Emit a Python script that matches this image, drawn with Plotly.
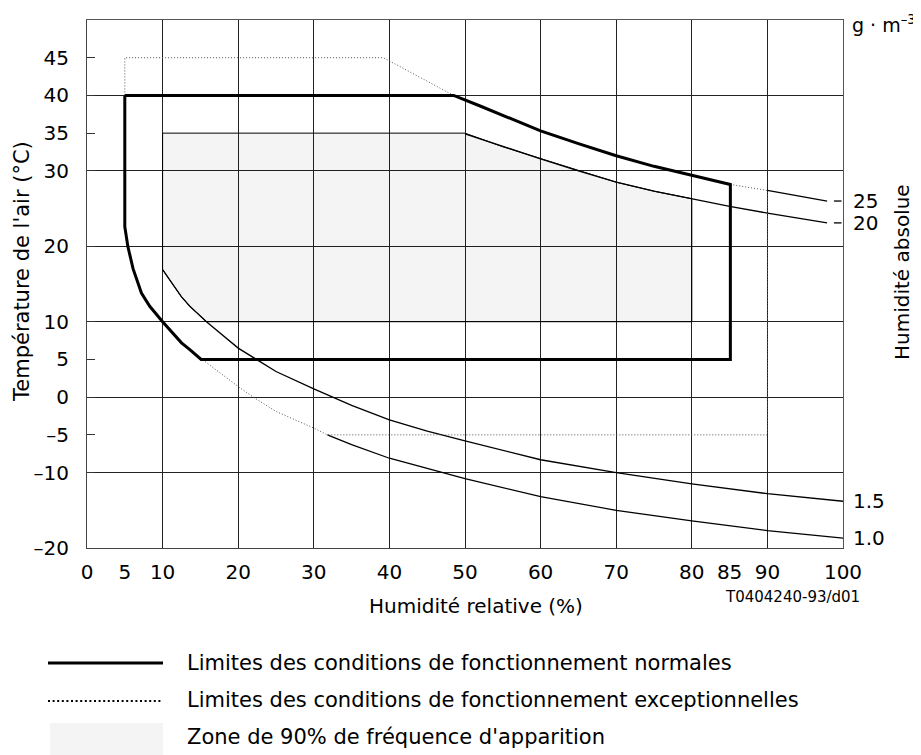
import plotly.graph_objects as go

# ---------------- data ----------------
# axis ticks
x_tick_vals = [0, 5, 10, 20, 30, 40, 50, 60, 70, 80, 85, 90, 100]
x_tick_text = ["0", "5", "10", "20", "30", "40", "50", "60", "70", "80", "85", "90", "100"]
x_grid_vals = [10, 20, 30, 40, 50, 60, 70, 80, 90]
y_tick_vals = [-20, -10, -5, 0, 5, 10, 20, 30, 35, 40, 45]
y_tick_text = ["–20", "–10", "–5", "0", "5", "10", "20", "30", "35", "40", "45"]
y_grid_vals = [-10, 0, 10, 20, 30, 40]

# 90 % frequency zone (grey area)
zone_rh = [10, 50, 55, 60, 65, 70, 75, 80, 80, 15.8, 13.6, 12.5, 10, 10]
zone_t = [35, 35, 33.2, 31.6, 30.0, 28.5, 27.3, 26.3, 10, 10, 12.05, 13.3, 16.9, 35]

# normal operating limits (thick line)
normal_rh = [5, 48.5, 52, 56, 60, 65, 70, 75, 80, 85.1, 85.1, 15.1, 13.6, 12.5,
             10, 8.3, 7.2, 6.1, 5.4, 5.0, 5]
normal_t = [40, 40, 38.6, 36.9, 35.3, 33.6, 32.0, 30.6, 29.4, 28.2, 5, 5, 6.3, 7.2,
            10, 12.05, 13.8, 17.0, 20, 22.6, 40]

# exceptional operating limits (dotted line, where not on the thick line)
exc_rh = [5, 5, 39.2, 44, 48.5, None, 85.1, 90, 90, 31.8, 30, 25, 22, 20, 15.1]
exc_t = [40, 45, 45, 42.4, 40, None, 28.2, 27.4, -5, -5, -4.1, -1.9, 0, 1.4, 5.1]

# absolute humidity isolines (g/m3)
ah25_rh = [90, 94, 97.9, None, 98.8, 99.8]
ah25_t = [27.4, 26.7, 26.0, None, 26.0, 26.0]
ah20_rh = [50, 55, 60, 65, 70, 75, 80, 85, 90, 97.9, None, 98.8, 99.8]
ah20_t = [34.9, 33.2, 31.6, 30.0, 28.5, 27.3, 26.3, 25.3, 24.4, 23.1, None, 23.1, 23.1]
ah15_rh = [10, 12.5, 13.6, 15.8, 20, 22.5, 25, 30, 35, 40, 45, 50, 60, 70, 80, 90, 100]
ah15_t = [16.9, 13.3, 12.05, 10.0, 6.5, 5.0, 3.4, 1.1, -1.1, -3.0, -4.5, -5.8, -8.3,
          -10.0, -11.5, -12.8, -13.8]
ah10_rh = [31.8, 35, 40, 45, 50, 60, 70, 80, 90, 100]
ah10_t = [-5.0, -6.3, -8.1, -9.5, -10.8, -13.2, -15.0, -16.4, -17.7, -18.7]

curve_labels = ["25", "20", "1.5", "1.0"]

legend_texts = [
    "Limites des conditions de fonctionnement normales",
    "Limites des conditions de fonctionnement exceptionnelles",
    "Zone de 90% de fréquence d'apparition",
]

# ---------------- figure ----------------
FONT = "DejaVu Sans"
fig = go.Figure()

fig.add_trace(go.Scatter(x=zone_rh, y=zone_t, mode="lines", fill="toself",
                         fillcolor="rgba(0,0,0,0.045)",
                         line=dict(color="black", width=1), hoverinfo="skip"))
for rh, t in [(ah25_rh, ah25_t), (ah20_rh, ah20_t), (ah15_rh, ah15_t), (ah10_rh, ah10_t)]:
    fig.add_trace(go.Scatter(x=rh, y=t, mode="lines",
                             line=dict(color="black", width=1.3), hoverinfo="skip"))
fig.add_trace(go.Scatter(x=exc_rh, y=exc_t, mode="lines",
                         line=dict(color="#555555", width=1, dash="1px,2px"),
                         hoverinfo="skip"))
fig.add_trace(go.Scatter(x=normal_rh, y=normal_t, mode="lines",
                         line=dict(color="black", width=3), hoverinfo="skip"))
# empty helper trace so that the grid/border axes (x2, y2) are drawn
fig.add_trace(go.Scatter(x=[None], y=[None], xaxis="x2", yaxis="y2", mode="lines",
                         hoverinfo="skip"))

# curve labels at the right edge
label_ends = [ah25_t[2], ah20_t[9], ah15_t[-1], ah10_t[-1]]
annotations = []
for lab, yv in zip(curve_labels, label_ends):
    annotations.append(dict(x=100, y=yv, xref="x", yref="y", text=lab, showarrow=False,
                            xanchor="left", yanchor="middle", xshift=8,
                            font=dict(family=FONT, size=20, color="black")))

# page body has an 8 px margin: positions below are reference-pixel based
def px_x(px):
    return (px - 87.0) / 756.0

def px_y(py):
    return (548.0 - py) / 528.0

annotations += [
    dict(x=px_x(918), y=px_y(24), xref="paper", yref="paper",
         text="g · m<sup>–3</sup>", showarrow=False, xanchor="right", yanchor="middle",
         font=dict(family=FONT, size=19, color="black")),
    dict(x=px_x(902), y=px_y(272), xref="paper", yref="paper", text="Humidité absolue",
         showarrow=False, textangle=-90, xanchor="center", yanchor="middle",
         font=dict(family=FONT, size=20, color="black")),
    dict(x=px_x(22), y=px_y(272), xref="paper", yref="paper",
         text="Température de l'air (°C)", showarrow=False, textangle=-90,
         xanchor="center", yanchor="middle",
         font=dict(family=FONT, size=21, color="black")),
    dict(x=px_x(476), y=px_y(606), xref="paper", yref="paper",
         text="Humidité relative (%)", showarrow=False, xanchor="center",
         yanchor="middle", font=dict(family=FONT, size=20, color="black")),
    dict(x=px_x(862), y=px_y(597), xref="paper", yref="paper",
         text="T0404240-93/d01", showarrow=False, xanchor="right",
         yanchor="middle", font=dict(family=FONT, size=15, color="black")),
]
legend_rows_py = [663, 700, 737]
for txt, py in zip(legend_texts, legend_rows_py):
    annotations.append(dict(x=px_x(185), y=px_y(py), xref="paper", yref="paper",
                            text=txt, showarrow=False, xanchor="left", yanchor="middle",
                            font=dict(family=FONT, size=21, color="black")))

shapes = [
    dict(type="line", xref="paper", yref="paper", x0=px_x(48), x1=px_x(163),
         y0=px_y(663), y1=px_y(663), line=dict(color="black", width=3)),
    dict(type="line", xref="paper", yref="paper", x0=px_x(48), x1=px_x(163),
         y0=px_y(701), y1=px_y(701), line=dict(color="black", width=2, dash="2px,2.6px")),
    dict(type="rect", xref="paper", yref="paper", x0=px_x(50), x1=px_x(163),
         y0=px_y(755), y1=px_y(723), fillcolor="#f4f4f4", line=dict(width=0)),
]

fig.update_layout(
    width=913, height=747,
    margin=dict(l=79, r=78, t=12, b=207),
    paper_bgcolor="white", plot_bgcolor="white",
    showlegend=False,
    font=dict(family=FONT, size=20, color="black"),
    xaxis=dict(range=[0, 100], tickmode="array", tickvals=x_tick_vals,
               ticktext=x_tick_text, showgrid=False, zeroline=False,
               showline=True, linecolor="#444", linewidth=1, ticks="",
               ticklabelstandoff=6, tickfont=dict(family=FONT, size=20)),
    yaxis=dict(range=[-20, 50], tickmode="array", tickvals=y_tick_vals,
               ticktext=y_tick_text, showgrid=False, zeroline=False,
               showline=True, linecolor="#444", linewidth=1, ticks="inside",
               ticklen=8, tickcolor="#333", ticklabelstandoff=13,
               tickfont=dict(family=FONT, size=20)),
    xaxis2=dict(range=[0, 100], overlaying="x", side="top", tickmode="array",
                tickvals=x_grid_vals, showticklabels=False, ticks="",
                showgrid=True, gridcolor="#222", gridwidth=1, zeroline=False,
                showline=True, linecolor="#555", linewidth=1),
    yaxis2=dict(range=[-20, 50], overlaying="y", side="right", tickmode="array",
                tickvals=y_grid_vals, showticklabels=False, ticks="",
                showgrid=True, gridcolor="#222", gridwidth=1, zeroline=False,
                showline=True, linecolor="#555", linewidth=1),
    annotations=annotations,
    shapes=shapes,
)

fig.write_html("out.html")
